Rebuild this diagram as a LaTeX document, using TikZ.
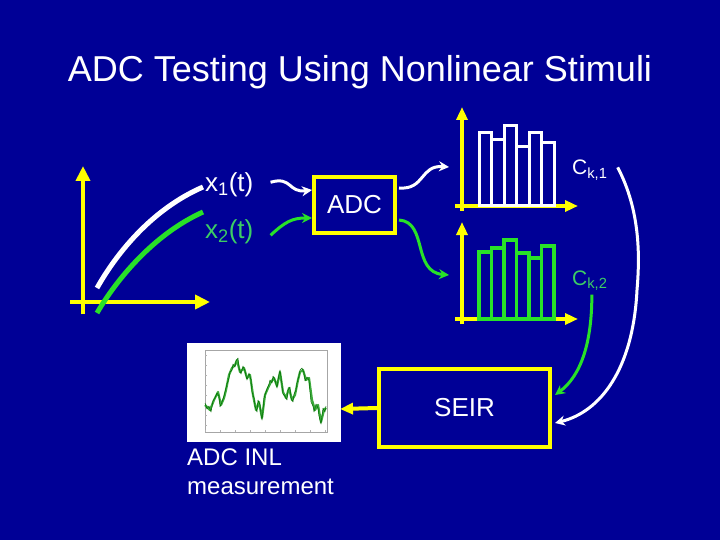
\documentclass[tikz,border=0pt]{standalone}
\usepackage{fontspec}
\setmainfont{Liberation Sans}
\usetikzlibrary{arrows.meta,calc}
\definecolor{bg}{RGB}{0,0,150}
\definecolor{ylw}{RGB}{255,255,0}
\definecolor{lgrn}{RGB}{40,225,40}
\definecolor{tgrn}{RGB}{60,205,100}
\definecolor{dgrn}{RGB}{0,110,0}
\definecolor{pgrn}{RGB}{60,170,60}
\tikzset{
  axis/.style={draw=ylw,line width=4pt,-{Triangle[length=13pt,width=11pt]}},
  bigaxis/.style={draw=ylw,line width=4.5pt,-{Triangle[length=15pt,width=14pt]}},
  boxnode/.style={draw=ylw,line width=4pt,inner sep=0pt,text=white},
  lbl/.style={inner sep=0pt,anchor=base west},
  warrow/.style={draw=white,line width=3pt,-{Stealth[length=10pt,width=10pt]}},
  garrow/.style={draw=lgrn,line width=3pt,-{Stealth[length=10pt,width=10pt]}},
  wbar/.style={draw=white,line width=3pt},
  gbar/.style={draw=lgrn,line width=3.5pt},
}
\begin{document}
\begin{tikzpicture}[x=1pt,y=-1pt]
\fill[bg] (0,0) rectangle (720,540);
\useasboundingbox (0,0) rectangle (720,540);

% title
\node[inner sep=0pt,anchor=base,text=white,font=\fontsize{36}{40}\selectfont] (title) at (360,82) {ADC Testing Using Nonlinear Stimuli};

% left plot
\draw[bigaxis] (83,314) -- (83,166);
\draw[bigaxis] (70,302) -- (210,302);
\draw[white,line width=5pt] (97,288) .. controls (115,256) and (150,210) .. (203,187);
\draw[lgrn,line width=5pt] (97,313) .. controls (115,282) and (152,235) .. (203,212);

% labels
\node[lbl,text=white,font=\fontsize{26}{30}\selectfont] (x1) at (205,192) {x\textsubscript{1}(t)};
\node[lbl,text=tgrn,font=\fontsize{26}{30}\selectfont] (x2) at (205,238) {x\textsubscript{2}(t)};

% ADC box
\node[boxnode,minimum width=81pt,minimum height=56pt,font=\fontsize{26}{30}\selectfont] (adc) at (354.5,205) {ADC};

\draw[warrow] ([xshift=17pt,yshift=3pt]x1.east) .. controls (292,176) and (288,193) .. ([yshift=15pt]adc.west);
\draw[garrow] ([xshift=17pt,yshift=-4pt]x2.east) .. controls (285,222) and (292,218) .. ([yshift=-13pt]adc.west);

% top histogram
\coordinate (h1) at (449,167);
\coordinate (h2) at (449,275);
\draw[warrow] ([xshift=2pt,yshift=17pt]adc.east) .. controls (425,190) and (420,165) .. (h1);
\draw[garrow] ([xshift=2pt,yshift=-15pt]adc.east) .. controls (428,222) and (412,272) .. (h2);

\draw[axis] (462,211) -- (462,107);
\draw[axis] (455,206) -- (578,206);
\draw[wbar] (479,206) rectangle (491.5,133)
            (491.5,206) rectangle (504,140)
            (504,206) rectangle (516.5,126)
            (516.5,206) rectangle (529,147)
            (529,206) rectangle (541.5,133)
            (541.5,206) rectangle (554,143);

% bottom histogram
\draw[axis] (462,324) -- (462,222);
\draw[axis] (455,319) -- (578,319);
\draw[gbar] (479,319) rectangle (491.5,252)
            (491.5,319) rectangle (504,248)
            (504,319) rectangle (516.5,240)
            (516.5,319) rectangle (529,253)
            (529,319) rectangle (541.5,258)
            (541.5,319) rectangle (554,246);

\node[lbl,text=white,font=\fontsize{21}{25}\selectfont] (ck1) at (572,175) {C\textsubscript{k,1}};
\node[lbl,text=tgrn,font=\fontsize{21}{25}\selectfont] (ck2) at (572,285) {C\textsubscript{k,2}};

% SEIR box
\node[boxnode,minimum width=171pt,minimum height=78pt,font=\fontsize{26}{30}\selectfont] (seir) at (464.5,408) {SEIR};

\draw[warrow] ([xshift=10pt,yshift=3pt]ck1.east) .. controls (640,210) and (640,255) .. (637,290)
   .. controls (633,370) and (600,412) .. ([xshift=3pt,yshift=-15pt]seir.east);
\draw[garrow] ([xshift=2pt,yshift=-4pt]ck2.south) .. controls (592,340) and (582,375) .. ([xshift=3pt,yshift=13pt]seir.east);

\draw[axis] (seir.west) -- ([xshift=-37pt,yshift=-1pt]seir.west);

% INL plot picture
\node[fill=white,minimum width=154pt,minimum height=99pt,inner sep=0pt] (inlplot) at (264,392.5) {};
\draw[gray!70,line width=0.4pt] (205,350) rectangle (327,432);
\foreach \tx in {205,220,235,250,265,280,295,310,325}{\draw[gray!60,line width=0.3pt] (\tx,432) -- (\tx,430);}
\foreach \ty in {355,365,375,385,395,405,415,425}{\draw[gray!60,line width=0.3pt] (205,\ty) -- (207,\ty);}
\draw[pgrn,line width=2.2pt,line join=round]
 (205,405) -- (208,408) -- (210,410) -- (214,400) -- (218,392) -- (221,405) -- (224,398) -- (226,390)
 -- (229,375) -- (232,368) -- (235,365) -- (237,360) -- (240,372) -- (244,368) -- (247,378) -- (250,375)
 -- (253,395) -- (256,410) -- (259,402) -- (262,418) -- (265,395) -- (268,388) -- (271,382) -- (274,378)
 -- (277,386) -- (280,372) -- (283,392) -- (286,398) -- (289,388) -- (292,400) -- (295,395) -- (298,380)
 -- (300,372) -- (303,370) -- (306,380) -- (309,378) -- (312,400) -- (315,410) -- (318,405) -- (321,422)
 -- (324,410) -- (326,408);
\draw[dgrn,line width=0.5pt,line join=round]
 (205,403) -- (207,409) -- (209,406) -- (211,412) -- (213,401) -- (215,398) -- (217,393) -- (219,396)
 -- (220,407) -- (222,402) -- (224,396) -- (225,392) -- (227,384) -- (229,378) -- (230,372) -- (232,370)
 -- (233,364) -- (235,367) -- (236,361) -- (238,358) -- (239,368) -- (241,374) -- (243,366) -- (245,371)
 -- (247,380) -- (249,373) -- (251,380) -- (252,392) -- (254,398) -- (255,406) -- (257,412) -- (258,400)
 -- (260,405) -- (261,414) -- (262,420) -- (263,410) -- (264,398) -- (266,392) -- (267,389) -- (269,384)
 -- (270,380) -- (272,383) -- (273,376) -- (275,380) -- (277,388) -- (278,380) -- (280,370) -- (282,385)
 -- (283,394) -- (285,396) -- (287,400) -- (288,390) -- (290,387) -- (291,398) -- (293,402) -- (294,394)
 -- (296,390) -- (297,383) -- (299,376) -- (300,370) -- (302,368) -- (304,373) -- (305,381) -- (307,377)
 -- (309,380) -- (310,392) -- (311,402) -- (313,406) -- (314,412) -- (316,404) -- (318,408) -- (319,416)
 -- (321,424) -- (322,416) -- (323,408) -- (325,412) -- (326,406);

\node[lbl,text=white,font=\fontsize{24}{29}\selectfont] (inl1) at (187,465) {ADC INL};
\node[lbl,text=white,font=\fontsize{24}{29}\selectfont] (inl2) at (187,494) {measurement};
\end{tikzpicture}
\end{document}
